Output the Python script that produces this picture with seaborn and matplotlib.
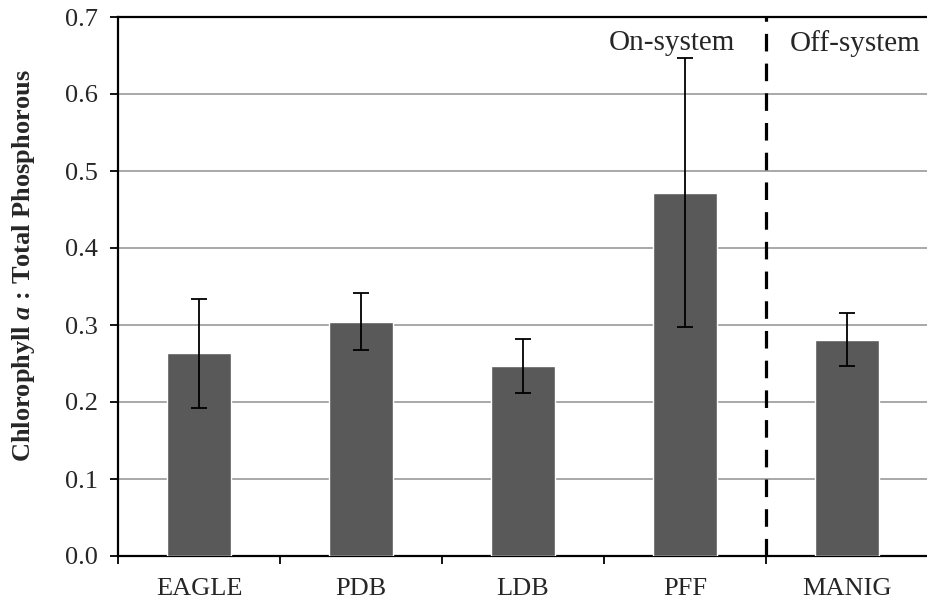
import matplotlib
matplotlib.use("Agg")
import matplotlib.pyplot as plt
import seaborn as sns
import pandas as pd
import numpy as np

sites = ["EAGLE", "PDB", "LDB", "PFF", "MANIG"]
ratio = [0.263, 0.304, 0.247, 0.472, 0.281]
ratio_err = [0.071, 0.037, 0.035, 0.175, 0.034]
y_ticks = [0.0, 0.1, 0.2, 0.3, 0.4, 0.5, 0.6, 0.7]
group_labels = ["On-system", "Off-system"]

sns.set_theme(style="white")
plt.rcParams["font.family"] = ["Liberation Serif", "DejaVu Serif"]
plt.rcParams["mathtext.fontset"] = "custom"
plt.rcParams["mathtext.rm"] = "Liberation Serif:bold"
plt.rcParams["mathtext.it"] = "Liberation Serif:italic:bold"

df = pd.DataFrame({"site": sites, "ratio": ratio, "err": ratio_err})

fig = plt.figure(figsize=(9.28, 6.05), dpi=100)
ax = fig.add_axes([118 / 928, 49 / 605, 810 / 928, 539 / 605])

sns.barplot(data=df, x="site", y="ratio", color="#595959", saturation=1,
            width=0.4, errorbar=None, ax=ax, zorder=3)
ax.errorbar(np.arange(len(sites)), df["ratio"], yerr=df["err"], fmt="none",
            ecolor="black", elinewidth=1.3, capsize=5.5, capthick=1.3, zorder=4)

ax.set_xlim(-0.5, len(sites) - 0.5)
ax.set_ylim(0, 0.7)
ax.set_yticks(y_ticks)
ax.set_yticklabels([f"{v:.1f}" for v in y_ticks], fontsize=19)
ax.yaxis.grid(True, color="#9a9a9a", linewidth=1.2, zorder=0)
ax.xaxis.grid(False)

# category labels centred on bars, tick marks on group boundaries
ax.set_xticks(np.arange(len(sites)))
ax.set_xticklabels(sites, fontsize=19)
ax.tick_params(axis="x", which="major", length=0, pad=16)
ax.set_xticks(np.arange(-0.5, len(sites) - 0.5, 1.0), minor=True)
ax.tick_params(axis="x", which="minor", length=5.5, width=1.3, color="black",
               direction="out", bottom=True)
ax.tick_params(axis="y", length=5.5, width=1.3, color="black",
               direction="out", left=True, pad=9)

for side in ["left", "bottom", "top"]:
    ax.spines[side].set_color("black")
    ax.spines[side].set_linewidth(1.6)
ax.spines["right"].set_visible(False)

ax.set_xlabel("")
ax.set_ylabel(r"Chlorophyll $\it{a}$ : Total Phosphorous", fontsize=19,
              fontweight="bold")
ax.yaxis.set_label_coords(-0.1, 0.538)

# boundary between on-system and off-system sites
ax.axvline(3.5, color="black", linewidth=2.3, linestyle=(0, (5.5, 3.8)), zorder=5)
ax.text(2.92, 0.666, group_labels[0], ha="center", va="center", fontsize=21)
ax.text(4.05, 0.666, group_labels[1], ha="center", va="center", fontsize=21)

fig.savefig("out.png", dpi=100)
